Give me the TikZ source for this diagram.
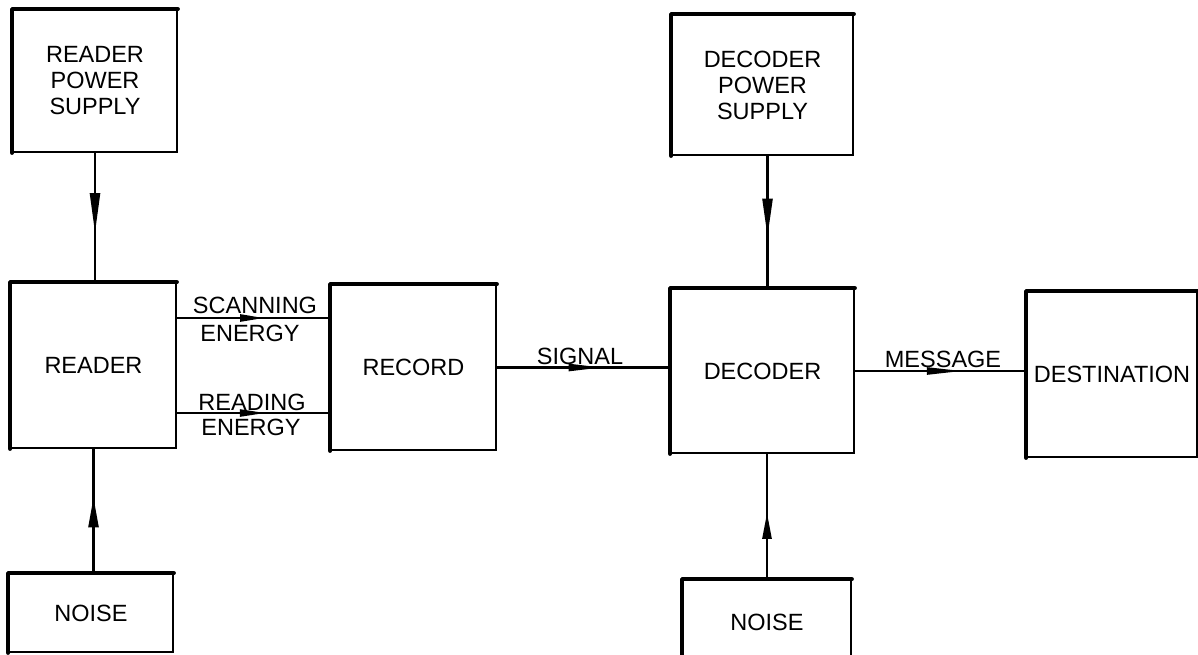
\documentclass[tikz,border=0pt]{standalone}
\usepackage{fontspec}
\setmainfont{Liberation Sans}
\usetikzlibrary{arrows.meta,decorations.markings}
\tikzset{
  txt/.style={font=\fontsize{23.5}{26}\selectfont},
  box/.style={draw, line width=1.8pt, inner sep=0pt, align=center, txt},
  heavyedge/.style={line width=4pt, line join=round, line cap=round},
  conn/.style={line width=2.4pt},
  lbl/.style={txt, inner sep=0pt},
  midarrow/.style n args={3}{postaction={decorate},
    decoration={markings, mark=at position #1 with {\arrow{Triangle[length=#2, width=#3]}}}}
}
\begin{document}
\begin{tikzpicture}[x=1pt,y=-1pt]
\useasboundingbox (0,0) rectangle (1198,654);
\clip (0,0) rectangle (1198,654);
\fill[white] (0,0) rectangle (1198,654);

% boxes
\node[box, minimum width=164pt, minimum height=142pt] (rps) at (95,81) {READER\\POWER\\SUPPLY};
\node[box, minimum width=165pt, minimum height=165pt] (reader) at (93.5,365.5) {READER};
\node[box, minimum width=164pt, minimum height=78pt] (noise1) at (91,613) {NOISE};
\node[box, minimum width=165pt, minimum height=165pt] (record) at (413.5,367.5) {RECORD};
\node[box, minimum width=181pt, minimum height=140pt] (dps) at (762.5,85) {DECODER\\POWER\\SUPPLY};
\node[box, minimum width=183pt, minimum height=164pt] (decoder) at (762.5,371) {DECODER};
\node[box, minimum width=168pt, minimum height=84pt] (noise2) at (767,622) {NOISE};
\node[box, minimum width=170pt, minimum height=165pt] (dest) at (1112,374.5) {DESTINATION};

% heavier top and left edges
\foreach \n in {rps,reader,noise1,record,dps,decoder,noise2,dest}
  \draw[heavyedge] (\n.south west) -- (\n.north west) -- (\n.north east);

% connectors
\draw[conn, midarrow={0.62}{40pt}{10pt}] (rps.south) -- (rps.south |- reader.north);
\draw[conn, midarrow={0.61}{30pt}{10pt}] (reader.south |- noise1.north) -- (reader.south);
\draw[conn, midarrow={0.61}{38pt}{10pt}] ([xshift=5pt]dps.south) -- ([xshift=5pt]dps.south |- decoder.north);
\draw[conn, midarrow={0.53}{26pt}{9pt}] (noise2.north) -- (noise2.north |- decoder.south);

\draw[conn, midarrow={0.57}{24pt}{7pt}] ([yshift=47.5pt]reader.east) -- ([yshift=47.5pt]reader.east -| record.west);
\draw[conn, midarrow={0.58}{26pt}{7pt}] ([yshift=-47.5pt]reader.east) -- ([yshift=-47.5pt]reader.east -| record.west);
\draw[conn, midarrow={0.61}{34pt}{7pt}] (record.east) -- (record.east -| decoder.west);
\draw[conn, midarrow={0.63}{36pt}{7pt}] (decoder.east) -- (decoder.east -| dest.west);

% labels
\node[lbl] (l1) at (255,305) {SCANNING};
\node[lbl] (l2) at (250,333) {ENERGY};
\node[lbl] (l3) at (252,402) {READING};
\node[lbl] (l4) at (251,427) {ENERGY};
\node[lbl] (l5) at (580,356) {SIGNAL};
\node[lbl] (l6) at (943,359) {MESSAGE};
\end{tikzpicture}
\end{document}
